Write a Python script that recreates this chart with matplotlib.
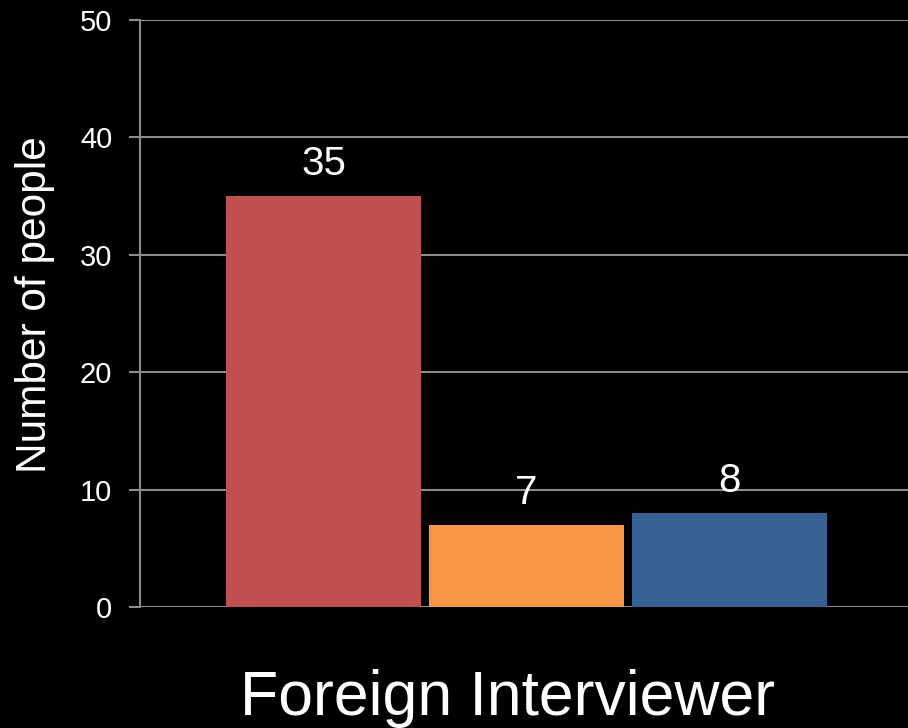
import matplotlib.pyplot as plt
import numpy as np

plt.rcParams['font.family'] = ['Liberation Sans', 'DejaVu Sans']

# data
groups = ["A", "B", "C"]
counts = [35, 7, 8]
colors = ["#C0504D", "#F79646", "#376092"]
y_ticks = [0, 10, 20, 30, 40, 50]

fig = plt.figure(figsize=(9.08, 7.28), dpi=100, facecolor="black")
ax = fig.add_axes([140/908, 1 - 607/728, 1 - 140/908, (607 - 20)/728])
ax.set_facecolor("black")

x = np.arange(len(groups))
bars = ax.bar(x, counts, width=0.96, color=colors, zorder=3)

for xi, v in zip(x, counts):
    ax.annotate(str(v), (xi, v), xytext=(0, 15), textcoords="offset points",
                ha="center", va="baseline", color="white", fontsize=29)

ax.set_xlim(-0.905, 2.88)
ax.set_ylim(0, 50)
ax.set_yticks(y_ticks)
ax.set_xticks([])
ax.yaxis.grid(True, color="#8c8c8c", linewidth=1.5, zorder=0)
ax.tick_params(axis="y", colors="#8c8c8c", labelcolor="white", labelsize=21,
               length=8, width=1.5, pad=12)

for s in ["top", "right", "bottom"]:
    ax.spines[s].set_visible(False)
ax.spines["left"].set_color("#8c8c8c")
ax.spines["left"].set_linewidth(1.5)

# axis titles placed like the original slide
fig.text(35/908, 1 - 305/728, "Number of people", rotation=90, color="white",
         fontsize=30.5, ha="center", va="center")
fig.text(508/908, 1 - 715/728, "Foreign Interviewer", color="white",
         fontsize=45, ha="center", va="baseline")

fig.savefig("out.png", dpi=100, facecolor="black")
